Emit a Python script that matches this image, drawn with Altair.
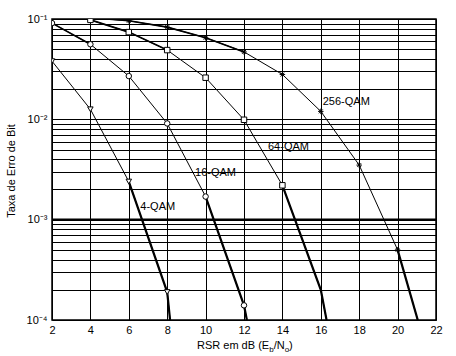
import altair as alt
import pandas as pd

# ---- data ----
x4 = [2, 4, 6, 8, 8.15]
b4 = [3.8e-2, 1.26e-2, 2.4e-3, 1.9e-4, 1e-4]
x16 = [2, 4, 6, 8, 10, 12, 12.15]
b16 = [9.1e-2, 5.6e-2, 2.7e-2, 9.1e-3, 1.7e-3, 1.4e-4, 1e-4]
x64 = [4, 6, 8, 10, 12, 14, 16, 16.3]
b64 = [9.8e-2, 7.4e-2, 4.9e-2, 2.6e-2, 9.9e-3, 2.2e-3, 2.0e-4, 1e-4]
x256 = [4, 6, 8, 10, 12, 14, 16, 18, 20, 21.05]
b256 = [1.03e-1, 9.6e-2, 8.3e-2, 6.5e-2, 4.7e-2, 2.8e-2, 1.2e-2, 3.5e-3, 5.0e-4, 1e-4]

series = ["4-QAM", "16-QAM", "64-QAM", "256-QAM"]
marked = {"4-QAM": [0, 1, 2, 3], "16-QAM": [0, 1, 2, 3, 4, 5],
          "64-QAM": [0, 1, 2, 3, 4, 5], "256-QAM": [1, 2, 3, 4, 5, 6, 7, 8]}

label_x = [6.6, 9.45, 13.25, 16.1]
label_y = [1.35e-3, 2.9e-3, 5.3e-3, 1.48e-2]

x_ticks = [2, 4, 6, 8, 10, 12, 14, 16, 18, 20, 22]
decades = [1e-4, 1e-3, 1e-2, 1e-1]
decade_labels = ["10⁻⁴", "10⁻³", "10⁻²", "10⁻¹"]

# ---- tables ----
rows = []
for name, xs_, bs_ in zip(series, [x4, x16, x64, x256], [b4, b16, b64, b256]):
    for i, (x, b) in enumerate(zip(xs_, bs_)):
        rows.append({"s": name, "x": x, "ber": b, "i": i, "m": i in marked[name]})
df = pd.DataFrame(rows)
lab = pd.DataFrame({"s": series, "x": label_x, "ber": label_y})

grid_vals = []
for d in decades[:-1]:
    for k in range(1, 10):
        grid_vals.append(round(d * k, 10))
grid_vals.append(1e-1)

lab_expr = " : ".join(
    [f"datum.value == {v} ? '{t}'" for v, t in zip(decades, decade_labels)]
) + " : ''"

FONT = "Liberation Sans"

xaxis = alt.Axis(values=x_ticks, grid=True, gridColor="black", gridOpacity=1,
                 gridWidth=1, ticks=False, domain=False, labelFont=FONT,
                 labelFontSize=11, labelColor="black", labelPadding=4,
                 title=None, labelFlush=False, labelOverlap=False, labelBound=False)
yaxis = alt.Axis(values=grid_vals, grid=True, gridColor="black", gridOpacity=1,
                 gridWidth=1, ticks=False, domain=False, labelExpr=lab_expr,
                 labelFont=FONT, labelFontSize=11, labelColor="black",
                 labelPadding=5, title=None, labelFlush=False,
                 labelOverlap=False, labelBound=False)
xscale = alt.Scale(domain=[2, 22], nice=False, zero=False)
yscale = alt.Scale(type="log", domain=[1e-4, 1e-1], nice=False)

def X(f="x:Q"):
    return alt.X(f, scale=xscale, axis=xaxis)

def Y(f="ber:Q"):
    return alt.Y(f, scale=yscale, axis=yaxis)

base = alt.Chart(df)

thin = base.mark_line(color="black", strokeWidth=1, clip=True).encode(
    x=X(), y=Y(), detail="s:N", order="i:Q")
thick_low = base.transform_filter("datum.ber <= 0.0025").mark_line(
    color="black", strokeWidth=2.2, clip=True).encode(
    x=X(), y=Y(), detail="s:N", order="i:Q")
thick_high = base.transform_filter("datum.ber >= 0.045").mark_line(
    color="black", strokeWidth=1.6, clip=True).encode(
    x=X(), y=Y(), detail="s:N", order="i:Q")

star = "M-1,0L1,0M0,-1L0,1M-0.7,-0.7L0.7,0.7M-0.7,0.7L0.7,-0.7"
shape_scale = alt.Scale(domain=series,
                        range=["triangle-down", "circle", "square", star])
pts = base.transform_filter("datum.m").mark_point(
    filled=False, color="black", fill="white", fillOpacity=1, strokeWidth=1,
    size=30, clip=True).encode(
    x=X(), y=Y(),
    shape=alt.Shape("s:N", scale=shape_scale, legend=None))

ref = alt.Chart(pd.DataFrame({"ber": [1e-3]})).mark_rule(
    color="black", strokeWidth=2.5).encode(y=Y())

labels = alt.Chart(lab).mark_text(
    align="left", baseline="middle", font=FONT, fontSize=11, color="black").encode(
    x=X(), y=Y(), text="s:N")

# axis titles
ytitle = alt.Chart(pd.DataFrame({"t": ["Taxa de Erro de Bit"]})).mark_text(
    angle=270, font=FONT, fontSize=11, color="black", align="center",
    baseline="middle").encode(x=alt.value(-40), y=alt.value(152), text="t:N")

def tpart(text, xpos, ypos, size):
    return alt.Chart(pd.DataFrame({"t": [text]})).mark_text(
        align="left", baseline="alphabetic", font=FONT, fontSize=size,
        color="black").encode(x=alt.value(xpos), y=alt.value(ypos), text="t:N")

xt = (tpart("RSR em dB (E", 145, 330, 11) + tpart("b", 217.3, 333, 8)
      + tpart("/N", 221.7, 330, 11) + tpart("o", 232.7, 333, 8)
      + tpart(")", 237.1, 330, 11))

chart = alt.layer(thin, thick_low, thick_high, ref, pts, labels, ytitle, xt).properties(
    width=384, height=301,
    padding={"left": 52, "top": 19, "right": 20, "bottom": 36},
    autosize=alt.AutoSizeParams(type="none"),
    background="white",
).configure_view(stroke="black", strokeWidth=1.5)

chart.save("out.html", embed_options={"renderer": "svg", "actions": False})
